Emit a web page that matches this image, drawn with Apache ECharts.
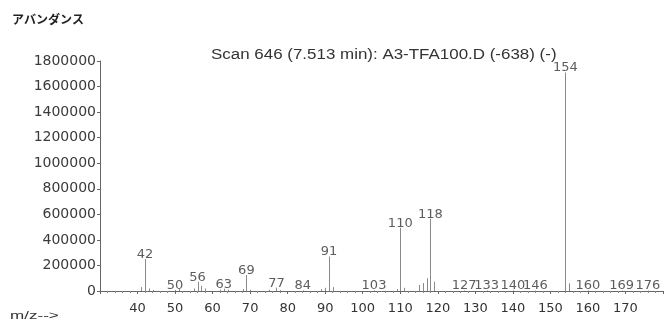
<!DOCTYPE html>
<html>
<head>
<meta charset="utf-8">
<script src="https://cdn.jsdelivr.net/npm/echarts@6/dist/echarts.min.js"></script>
<style>
  html, body { margin: 0; padding: 0; background: #fff; }
  #chart { width: 666px; height: 326px; }
</style>
</head>
<body>
<div id="chart"></div>
<script>
// Mass spectrum: m/z values and their abundances
const mz = [41, 42, 43, 44, 50, 51, 55, 56, 57, 58, 62, 63, 64, 68, 69, 70,
            75, 77, 78, 84, 89, 90, 91, 92, 103, 109, 110, 111,
            115, 116, 117, 118, 119, 127, 133, 140, 146, 154, 155, 160, 169, 176];
const abundance = [30000, 250000, 20000, 8000, 8000, 15000, 20000, 73000, 40000, 20000, 10000, 18000, 10000, 15000, 125000, 10000,
                   10000, 26000, 8000, 5000, 15000, 25000, 270000, 30000, 5000, 15000, 495000, 25000,
                   47000, 62000, 100000, 566000, 73000, 4000, 4000, 4000, 4000, 1710000, 60000, 4000, 4000, 4000];
// Peaks annotated with their m/z
const labelledMz = [42, 50, 56, 63, 69, 77, 84, 91, 103, 110, 118, 127, 133, 140, 146, 154, 160, 169, 176];

const yTicks = { min: 0, max: 1800000, step: 200000 };
const xTicks = { min: 30, max: 180, step: 10 };

const peaks = mz.map((m, i) => [m, abundance[i]]);
const labelled = peaks.filter(p => labelledMz.includes(p[0]));

const textColor = '#333';
const font = 'DejaVu Sans';

const chart = echarts.init(document.getElementById('chart'), null, { renderer: 'canvas' });
chart.setOption({
  animation: false,
  backgroundColor: '#fff',
  grid: { left: 100, right: 0, top: 61, bottom: 35 },
  xAxis: {
    type: 'value',
    min: xTicks.min, max: xTicks.max, interval: xTicks.step,
    axisLine: { lineStyle: { color: '#666', width: 1 } },
    axisTick: { show: true, length: 3, inside: false, lineStyle: { color: '#666' } },
    minorTick: { show: true, splitNumber: 5, length: 2, lineStyle: { color: '#888' } },
    splitLine: { show: false },
    axisLabel: {
      color: textColor, fontFamily: font, fontSize: 13, margin: 11,
      formatter: v => (v <= xTicks.min || v >= xTicks.max) ? '' : String(v)
    }
  },
  yAxis: {
    type: 'value',
    min: yTicks.min, max: yTicks.max, interval: yTicks.step,
    axisLine: { show: true, lineStyle: { color: '#666', width: 1 } },
    axisTick: { show: true, length: 3, lineStyle: { color: '#666' } },
    splitLine: { show: false },
    axisLabel: {
      color: '#3a3a3a', fontFamily: font, fontSize: 14, margin: 4,
      formatter: v => String(v)
    }
  },
  graphic: [
    { type: 'text', x: 12, y: 13,
      style: { text: 'アバンダンス', fill: '#222', font: 'bold 12px "Noto Sans CJK JP"', verticalAlign: 'top' } },
    { type: 'text', x: 211, y: 48, scaleX: 1.21,
      style: { text: 'Scan 646 (7.513 min): A3-TFA100.D (-638) (-)', fill: textColor, font: '14px "Liberation Sans"', verticalAlign: 'top' } },
    { type: 'text', x: 10, y: 310, scaleX: 1.55,
      style: { text: 'm/z-->', fill: textColor, font: '11px "Liberation Sans"', verticalAlign: 'top' } }
  ],
  series: [
    {
      type: 'custom',
      data: peaks,
      renderItem: (params, api) => {
        const x = api.value(0), y = api.value(1);
        const base = api.coord([x, 0]);
        const top = api.coord([x, y]);
        const px = Math.round(base[0]) + 0.5;
        return {
          type: 'line',
          shape: { x1: px, y1: base[1], x2: px, y2: top[1] },
          style: { stroke: '#8a8a8a', lineWidth: 1 }
        };
      }
    },
    {
      type: 'scatter',
      data: labelled,
      symbolSize: 0,
      label: {
        show: true, position: 'top', distance: -2,
        color: textColor, fontFamily: font, fontSize: 13,
        formatter: p => String(p.value[0])
      }
    }
  ]
});
</script>
</body>
</html>
